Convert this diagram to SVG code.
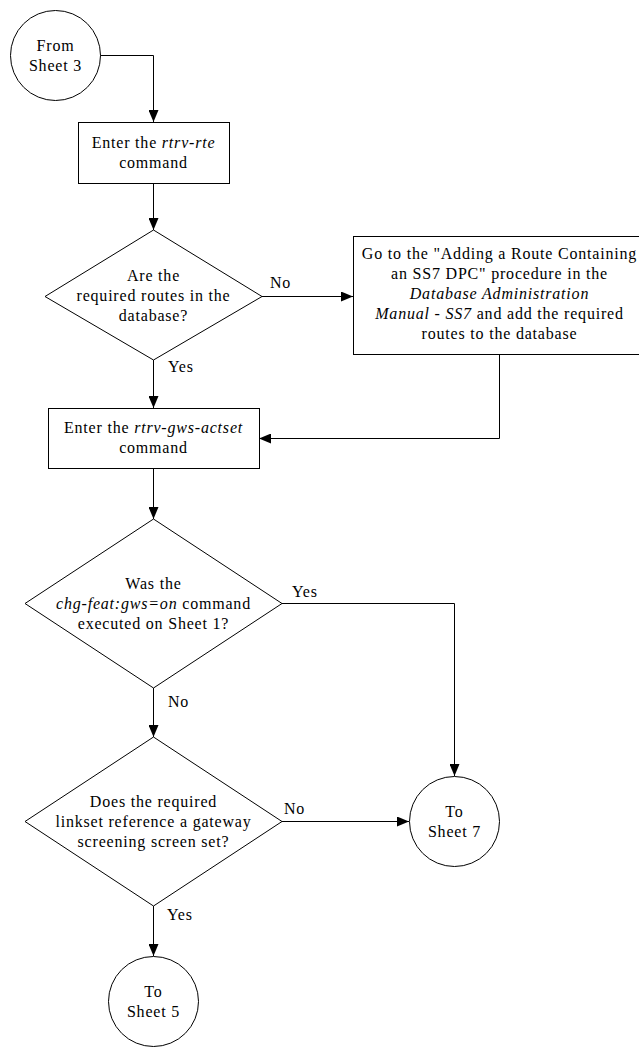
<svg xmlns="http://www.w3.org/2000/svg" width="639" height="1047" viewBox="0 0 639 1047">
<style>
.s{fill:#fff;stroke:#000;stroke-width:1}
.t{font-family:"Liberation Serif","Times New Roman",serif;font-size:16px;letter-spacing:0.8px;fill:#000;text-anchor:middle}
.l{font-family:"Liberation Serif","Times New Roman",serif;font-size:16px;letter-spacing:0.8px;fill:#000}
.i{font-style:italic}
.c{fill:none;stroke:#000;stroke-width:1;marker-end:url(#ah)}
</style>
<defs>
<marker id="ah" markerUnits="userSpaceOnUse" markerWidth="12" markerHeight="10" refX="12" refY="5" orient="auto">
<path d="M0,0 L12,5 L0,10 z" fill="#000"/>
</marker>
</defs>
<rect width="639" height="1047" fill="#fff"/>
<g id="connectors">
<path class="c" d="M100,55.5 H153.5 V122"/>
<path class="c" d="M153.5,183 V230"/>
<path class="c" d="M262,296.5 H353"/>
<path class="c" d="M153.5,360 V408"/>
<path class="c" d="M499.5,354 V438.5 H259"/>
<path class="c" d="M153.5,468 V519"/>
<path class="c" d="M282,603.5 H454.5 V776"/>
<path class="c" d="M153.5,688 V737"/>
<path class="c" d="M282,821.5 H409"/>
<path class="c" d="M153.5,906 V956"/>
<text class="l" x="270" y="288">No</text>
<text class="l" x="168" y="372">Yes</text>
<text class="l" x="292" y="597">Yes</text>
<text class="l" x="168" y="707">No</text>
<text class="l" x="284" y="814">No</text>
<text class="l" x="167" y="920">Yes</text>
</g>
<g id="from3">
<circle class="s" cx="55.5" cy="55.5" r="45"/>
<text class="t" x="55.5" y="51">From</text>
<text class="t" x="55.5" y="71">Sheet 3</text>
</g>
<g id="box1">
<rect class="s" x="78.5" y="122.5" width="151" height="61"/>
<text class="t" x="153.5" y="148">Enter the <tspan class="i">rtrv-rte</tspan></text>
<text class="t" x="153.5" y="168">command</text>
</g>
<g id="dec1">
<polygon class="s" points="153.5,230 262,296.5 153.5,360 45,296.5"/>
<text class="t" x="153.5" y="281">Are the</text>
<text class="t" x="153.5" y="301">required routes in the</text>
<text class="t" x="153.5" y="321">database?</text>
</g>
<g id="boxRoute">
<rect class="s" x="353.5" y="236.5" width="292" height="118"/>
<text class="t" x="499.5" y="259">Go to the "Adding a Route Containing</text>
<text class="t" x="499.5" y="279">an SS7 DPC" procedure in the</text>
<text class="t i" x="499.5" y="299">Database Administration</text>
<text class="t" x="499.5" y="319"><tspan class="i">Manual - SS7</tspan> and add the required</text>
<text class="t" x="499.5" y="339">routes to the database</text>
</g>
<g id="box2">
<rect class="s" x="48.5" y="408.5" width="211" height="60"/>
<text class="t" x="153.5" y="433">Enter the <tspan class="i">rtrv-gws-actset</tspan></text>
<text class="t" x="153.5" y="453">command</text>
</g>
<g id="dec2">
<polygon class="s" points="153.5,519 282,603.5 153.5,688 25,603.5"/>
<text class="t" x="153.5" y="589">Was the</text>
<text class="t" x="153.5" y="609"><tspan class="i">chg-feat:gws=on</tspan> command</text>
<text class="t" x="153.5" y="629">executed on Sheet 1?</text>
</g>
<g id="dec3">
<polygon class="s" points="153.5,737 282,821.5 153.5,906 25,821.5"/>
<text class="t" x="153.5" y="807">Does the required</text>
<text class="t" x="153.5" y="827">linkset reference a gateway</text>
<text class="t" x="153.5" y="847">screening screen set?</text>
</g>
<g id="to7">
<circle class="s" cx="454.5" cy="821.5" r="45"/>
<text class="t" x="454.5" y="817">To</text>
<text class="t" x="454.5" y="837">Sheet 7</text>
</g>
<g id="to5">
<circle class="s" cx="153.5" cy="1001.5" r="45"/>
<text class="t" x="153.5" y="997">To</text>
<text class="t" x="153.5" y="1017">Sheet 5</text>
</g>
</svg>
